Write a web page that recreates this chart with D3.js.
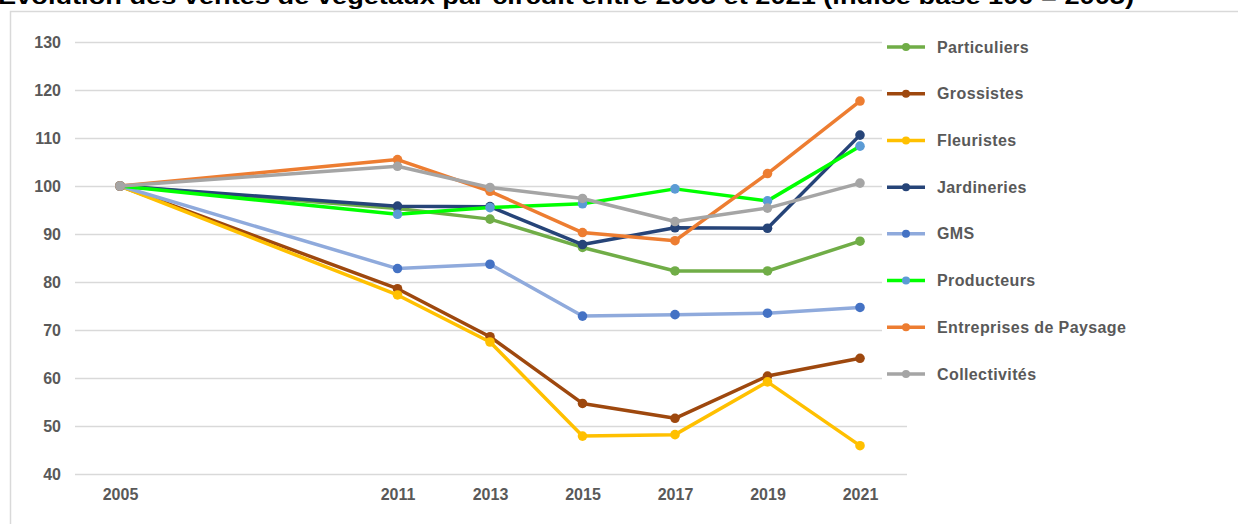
<!DOCTYPE html>
<html>
<head>
<meta charset="utf-8">
<script src="https://cdn.jsdelivr.net/npm/d3@7"></script>
<style>
  body { margin: 0; background: #fff; }
  svg { display: block; font-family: "Liberation Sans", Arial, sans-serif; }
</style>
</head>
<body>
<div id="chart"></div>
<script>
// data
const years = [2005, 2011, 2013, 2015, 2017, 2019, 2021];
const yTicks = [40, 50, 60, 70, 80, 90, 100, 110, 120, 130];
const seriesNames = ["Particuliers", "Grossistes", "Fleuristes", "Jardineries", "GMS", "Producteurs", "Entreprises de Paysage", "Collectivités"];
const particuliers = [100, 95.3, 93.1, 87.2, 82.3, 82.3, 88.5];
const grossistes   = [100, 78.6, 68.6, 54.7, 51.6, 60.4, 64.1];
const fleuristes   = [100, 77.3, 67.5, 47.9, 48.2, 59.2, 45.9];
const jardineries  = [100, 95.8, 95.7, 87.8, 91.3, 91.2, 110.6];
const gms          = [100, 82.8, 83.7, 72.9, 73.2, 73.5, 74.7];
const producteurs  = [100, 94.1, 95.5, 96.3, 99.4, 96.9, 108.3];
const paysage      = [100, 105.5, 98.9, 90.3, 88.6, 102.6, 117.7];
const collectivites = [100, 104.1, 99.7, 97.4, 92.6, 95.4, 100.6];
const allValues = [particuliers, grossistes, fleuristes, jardineries, gms, producteurs, paysage, collectivites];

// line colour / marker colour
const lineColors = ["#70AD47", "#9E480E", "#FFC000", "#264478", "#8FAADC", "#00FF00", "#ED7D31", "#A5A5A5"];
const markerColors = ["#70AD47", "#9E480E", "#FFC000", "#264478", "#4472C4", "#5B9BD5", "#ED7D31", "#A5A5A5"];

const W = 1238, H = 524;
const svg = d3.select("#chart").append("svg")
  .attr("width", W).attr("height", H);

// title, cut off at the top like the original screenshot
svg.append("text")
  .attr("x", -2).attr("y", 4)
  .attr("textLength", 1136)
  .attr("lengthAdjust", "spacingAndGlyphs")
  .attr("font-size", 22)
  .attr("font-weight", "bold")
  .attr("fill", "#000")
  .text("Évolution des ventes de végétaux par circuit entre 2005 et 2021 (indice base 100 = 2005)");

// frame
svg.append("rect")
  .attr("x", 10.5).attr("y", 11.5)
  .attr("width", 1240).attr("height", 530)
  .attr("fill", "none").attr("stroke", "#d9d9d9").attr("stroke-width", 1.5);

const x = d3.scaleLinear().domain([2005, 2021]).range([120, 860]);
const y = d3.scaleLinear().domain([40, 130]).range([474, 42]);

// gridlines
svg.append("g")
  .selectAll("line")
  .data(yTicks)
  .enter().append("line")
    .attr("x1", 75).attr("x2", 907)
    .attr("y1", d => Math.round(y(d)) + 0.5)
    .attr("y2", d => Math.round(y(d)) + 0.5)
    .attr("stroke", "#d9d9d9").attr("stroke-width", 1.5);

// y axis labels
const yAxis = svg.append("g")
  .attr("transform", "translate(61,0)")
  .call(d3.axisLeft(y).tickValues(yTicks).tickSize(0).tickPadding(0));
yAxis.select(".domain").remove();
yAxis.selectAll("text")
  .attr("font-size", 16).attr("font-weight", "bold")
  .attr("font-family", "Liberation Sans, Arial, sans-serif")
  .attr("fill", "#595959");

// x axis labels
const xAxis = svg.append("g")
  .attr("transform", "translate(0,489)")
  .call(d3.axisBottom(x).tickValues(years).tickFormat(d3.format("d")).tickSize(0).tickPadding(0));
xAxis.select(".domain").remove();
xAxis.selectAll("text")
  .attr("font-size", 16).attr("font-weight", "bold")
  .attr("font-family", "Liberation Sans, Arial, sans-serif")
  .attr("fill", "#595959");

// lines + markers
const line = d3.line()
  .x((d, i) => x(years[i]))
  .y(d => y(d));

allValues.forEach((vals, k) => {
  const g = svg.append("g");
  g.append("path")
    .datum(vals)
    .attr("d", line)
    .attr("fill", "none")
    .attr("stroke", lineColors[k])
    .attr("stroke-width", 3.5)
    .attr("stroke-linejoin", "round")
    .attr("stroke-linecap", "round");
  g.selectAll("circle")
    .data(vals)
    .enter().append("circle")
      .attr("cx", (d, i) => x(years[i]))
      .attr("cy", d => y(d))
      .attr("r", 4.8)
      .attr("fill", markerColors[k]);
});

// legend
const legY = d3.scalePoint().domain(seriesNames).range([47, 374]);
const leg = svg.append("g");
seriesNames.forEach((name, k) => {
  const ly = legY(name);
  leg.append("rect")
    .attr("x", 882).attr("y", ly - 10)
    .attr("width", 50).attr("height", 20)
    .attr("fill", "#fff");
  leg.append("line")
    .attr("x1", 887).attr("x2", 925)
    .attr("y1", ly).attr("y2", ly)
    .attr("stroke", lineColors[k]).attr("stroke-width", 3.5);
  leg.append("circle")
    .attr("cx", 906).attr("cy", ly).attr("r", 4)
    .attr("fill", markerColors[k]);
  leg.append("text")
    .attr("x", 937).attr("y", ly)
    .attr("dy", "0.35em")
    .attr("font-size", 16)
    .attr("font-weight", "bold")
    .attr("letter-spacing", 0.4)
    .attr("fill", "#595959")
    .text(name);
});
</script>
</body>
</html>
